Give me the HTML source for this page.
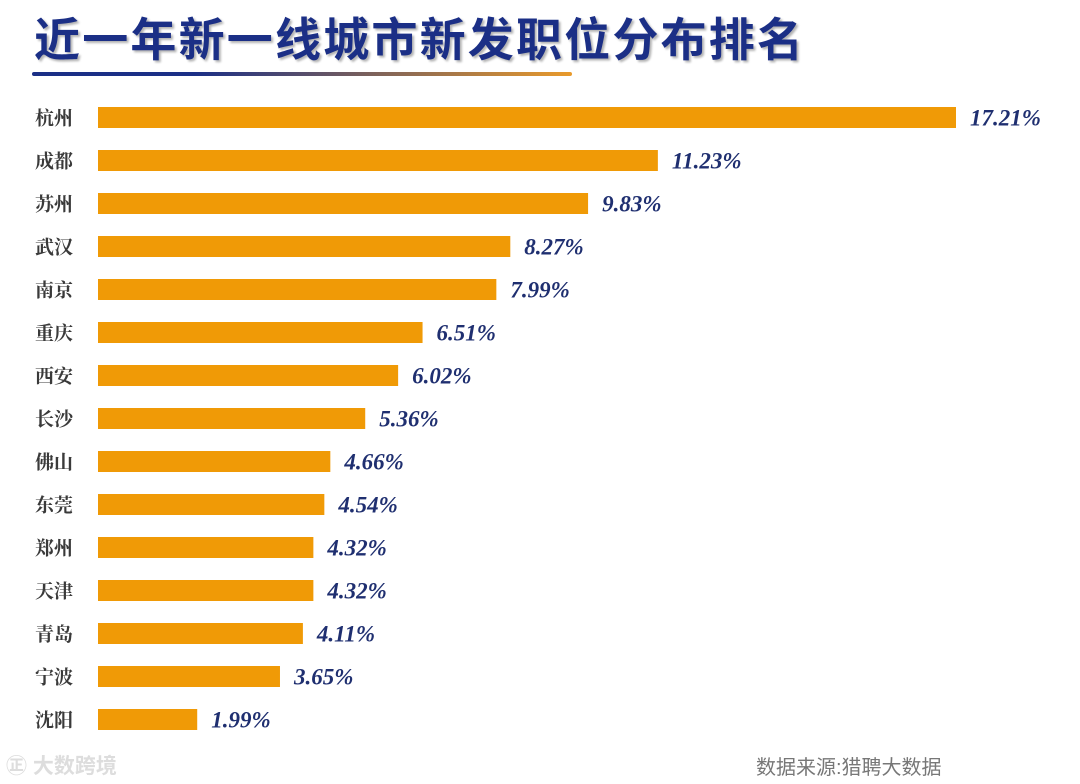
<!DOCTYPE html>
<html><head><meta charset="utf-8"><style>
body{margin:0;background:#fff;}
#wrap{position:relative;width:1080px;height:784px;overflow:hidden;background:#fff;}
.title{position:absolute;left:34px;top:9px;font:bold 46px "Liberation Sans","Noto Sans CJK SC",sans-serif;color:#1b2f86;letter-spacing:2.2px;text-shadow:2px 2px 2px rgba(0,0,0,0.3);white-space:nowrap;line-height:62px;}
.uline{position:absolute;left:32px;top:72px;width:540px;height:4px;background:linear-gradient(90deg,#1b2f86 0%,#1b2f86 30%,#e99a2b 100%);border-radius:2px;}
.src{position:absolute;left:756px;top:751px;font:20px "Liberation Sans","Noto Sans CJK SC",sans-serif;color:#777;}
.wm{position:absolute;left:6px;top:750px;font:bold 21px "Liberation Sans","Noto Sans CJK SC",sans-serif;color:#ddd;}
</style></head><body>
<div id="wrap">
<div class="title">近一年新一线城市新发职位分布排名</div>
<div class="uline"></div>
<svg id="svg" width="1080" height="784" style="position:absolute;left:0;top:0"></svg>
<div class="wm">㊣ 大数跨境</div>
<div class="src">数据来源:猎聘大数据</div>
</div>
<script>
const cities=["杭州","成都","苏州","武汉","南京","重庆","西安","长沙","佛山","东莞","郑州","天津","青岛","宁波","沈阳"];
const values=[17.21,11.23,9.83,8.27,7.99,6.51,6.02,5.36,4.66,4.54,4.32,4.32,4.11,3.65,1.99];
const labels=["17.21%","11.23%","9.83%","8.27%","7.99%","6.51%","6.02%","5.36%","4.66%","4.54%","4.32%","4.32%","4.11%","3.65%","1.99%"];
const x0=98, pxPer=(956-98)/17.21;
const xScale=v=>x0+v*pxPer;
const yCenter=i=>117.5+i*43;
const svg=document.getElementById('svg');
const NS='http://www.w3.org/2000/svg';
cities.forEach((c,i)=>{
  const yc=yCenter(i);
  const t=document.createElementNS(NS,'text');
  
  
  t.setAttribute('x',35);t.setAttribute('y',yc+7);
  t.setAttribute('font-family','"Liberation Serif","Noto Serif CJK SC",serif');
  t.setAttribute('font-size','19');t.setAttribute('font-weight','bold');t.setAttribute('fill','#3a3a3a');
  t.textContent=c;svg.appendChild(t);
  const r=document.createElementNS(NS,'rect');
  
  
  r.setAttribute('x',x0);r.setAttribute('y',yc-10.5);
  r.setAttribute('width',xScale(values[i])-x0);r.setAttribute('height',21);
  r.setAttribute('fill','#f09a06');svg.appendChild(r);
  const v=document.createElementNS(NS,'text');
  
  
  v.setAttribute('x',xScale(values[i])+14);v.setAttribute('y',yc+8);
  v.setAttribute('font-family','"Liberation Serif",serif');
  v.setAttribute('font-size','23');v.setAttribute('font-weight','bold');v.setAttribute('font-style','italic');v.setAttribute('fill','#1f2f70');
  v.textContent=labels[i];svg.appendChild(v);
});
</script>
</body></html>
